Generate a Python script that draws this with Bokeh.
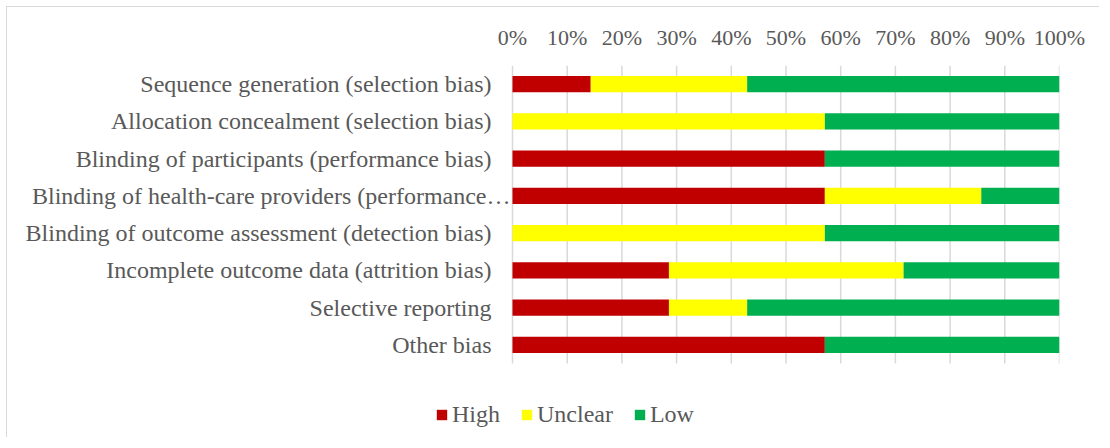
from bokeh.plotting import figure
from bokeh.models import Range1d, FixedTicker, NumeralTickFormatter, Legend, ColumnDataSource
from bokeh.core.properties import value
from bokeh.embed import file_html
from bokeh.resources import INLINE

categories = [
    "Sequence generation (selection bias)",
    "Allocation concealment (selection bias)",
    "Blinding of participants (performance bias)",
    "Blinding of health-care providers (performance\u2026",
    "Blinding of outcome assessment (detection bias)",
    "Incomplete outcome data (attrition bias)",
    "Selective reporting",
    "Other bias",
]
high = [0.143, 0.0, 0.571, 0.571, 0.0, 0.286, 0.286, 0.571]
unclear = [0.286, 0.571, 0.0, 0.286, 0.571, 0.429, 0.143, 0.0]
low = [0.571, 0.429, 0.429, 0.143, 0.429, 0.286, 0.571, 0.429]
series = ["High", "Unclear", "Low"]
colors = ["#C00000", "#FFFF00", "#00B050"]
ticks = [0.0, 0.1, 0.2, 0.3, 0.4, 0.5, 0.6, 0.7, 0.8, 0.9, 1.0]

FONT = "Liberation Serif"
TXT = "#595959"

# layout constants (pixels)
W, H = 1093, 431
TOP, RIGHT = 58, 41
PLOT_LEFT_PX = 505      # where 0% sits, from the figure's left edge
BAND_PX = 37.25         # height of one category band

n = len(categories)
ypos = [n - i - 0.5 for i in range(n)]
# truncated labels (ending with an ellipsis) run up to the bar edge
label_offsets = [-2 if c.endswith("\u2026") else -21 for c in categories]
frame_w = W - RIGHT
frame_h = H - TOP
unit_px = frame_w - PLOT_LEFT_PX
x_start = -PLOT_LEFT_PX / unit_px
y_start = n - frame_h / BAND_PX

src = ColumnDataSource(dict(y=ypos, cat=categories, off=label_offsets,
                            High=high, Unclear=unclear, Low=low))

p = figure(
    width=W, height=H,
    x_range=Range1d(x_start, 1), y_range=Range1d(y_start, n),
    x_axis_location="above", y_axis_location=None,
    output_backend="svg", toolbar_location=None,
    min_border_left=0, min_border_right=RIGHT, min_border_top=TOP, min_border_bottom=0,
)
p.styles = {"border-top": "1px solid #D9D9D9", "border-left": "1px solid #D9D9D9",
            "margin-left": "6px", "margin-top": "6px"}
p.outline_line_color = None
p.xgrid.grid_line_color = None
p.ygrid.grid_line_color = None

# vertical gridlines spanning the category bands
p.segment(x0=ticks, x1=ticks, y0=[0] * len(ticks), y1=[n] * len(ticks),
          line_color="#D9D9D9", line_width=1.5)

rs = p.hbar_stack(series, y="y", height=0.43, color=colors, source=src, line_color=None)

# category labels
p.text(x=0, y="y", text="cat", source=src, x_offset="off",
       text_align="right", text_baseline="middle",
       text_font=value(FONT), text_font_size="24px", text_color=TXT)

xa = p.xaxis[0]
xa.ticker = FixedTicker(ticks=ticks)
xa.formatter = NumeralTickFormatter(format="0%")
xa.axis_line_color = None
xa.major_tick_line_color = None
xa.minor_tick_line_color = None
xa.major_label_text_font = FONT
xa.major_label_text_font_size = "22px"
xa.major_label_text_color = TXT
xa.major_label_standoff = 10

legend = Legend(
    items=[(s, [r]) for s, r in zip(series, rs)],
    location=(428, 10), orientation="horizontal",
    glyph_width=13, glyph_height=13, label_standoff=4, spacing=20,
    padding=0, margin=0, border_line_color=None, background_fill_alpha=0,
    label_text_font=FONT, label_text_font_size="24px", label_text_color=TXT,
)
p.add_layout(legend, "center")

open("out.html", "w").write(file_html(p, INLINE))
